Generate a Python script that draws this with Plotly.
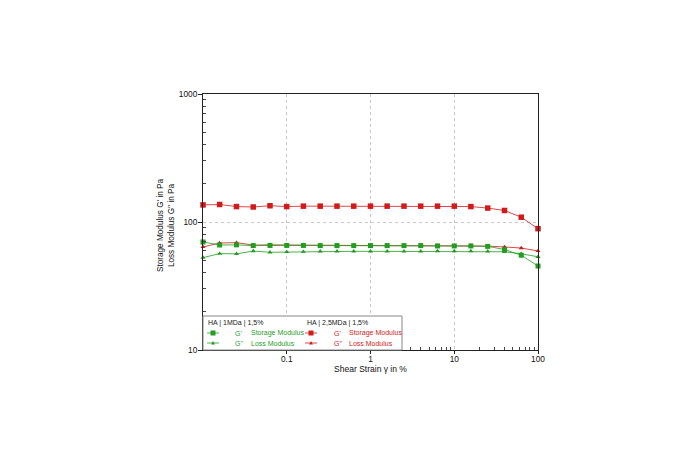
import plotly.graph_objects as go

# ---- data ----
strain = [0.01, 0.0158, 0.0251, 0.0398, 0.0631, 0.1, 0.158, 0.251, 0.398, 0.631,
          1, 1.58, 2.51, 3.98, 6.31, 10, 15.8, 25.1, 39.8, 63.1, 100]
ha25_storage = [136, 137, 132, 131, 134, 132, 133, 133, 133, 133, 133, 133, 133,
                133, 133, 133, 132, 128.5, 123, 109, 88.7]
ha25_loss = [63.8, 68.5, 69, 66, 66.3, 66, 66, 65.8, 65.8, 65.6, 65.5, 65.5, 65.5,
             65.5, 65.5, 65.5, 65.5, 64.8, 63.8, 62.6, 59.4]
ha1_storage = [69.8, 66.1, 66.3, 65.4, 65.6, 65.6, 65.6, 65.4, 65.4, 65.4, 65.4, 65.4,
               65.4, 65.4, 65, 65, 65, 64.5, 61, 55, 45.3]
ha1_loss = [52.7, 56.6, 56.4, 59.3, 58, 58.3, 58.6, 59, 59, 59, 59, 59, 59, 59,
            59.3, 59.3, 59.3, 59, 58.5, 56.5, 53.5]
x_ticks = [0.1, 1, 10, 100]
x_ticklabels = ["0.1", "1", "10", "100"]
y_ticks = [10, 100, 1000]
y_ticklabels = ["10", "100", "1000"]
x_minor = [m * d for d in [0.01, 0.1, 1, 10] for m in range(2, 10)]
y_minor = [m * d for d in [10, 100] for m in range(2, 10)]

GREEN = "#1f9e1f"
RED = "#d21a1a"
FONT = "Arial, Liberation Sans, sans-serif"

fig = go.Figure()

def add(y, color, symbol, size):
    fig.add_trace(go.Scatter(
        x=strain, y=y, mode="lines+markers", cliponaxis=False,
        line=dict(color=color, width=0.8),
        marker=dict(color=color, symbol=symbol, size=size, line=dict(width=0)),
        showlegend=False))

add(ha1_loss, GREEN, "triangle-up", 4.5)
add(ha25_loss, RED, "triangle-up", 4.5)
add(ha1_storage, GREEN, "square", 5)
add(ha25_storage, RED, "square", 5.5)

# plot-area geometry (px, page coords) ; page body has an 8px offset
OFF = 8
L, R, T, B = 203, 538, 94, 350
def PX(px):
    return (px - L) / (R - L)
def PY(py):
    return (B - py) / (B - T)

shapes = []
annotations = []
# legend box
shapes.append(dict(type="rect", xref="paper", yref="paper", x0=PX(203), x1=PX(402),
                   y0=PY(350), y1=PY(316), line=dict(color="#888", width=1),
                   fillcolor="white", layer="above"))

def legend_col(x_title, x_mark, x_g, x_txt, title, color):
    annotations.append(dict(x=PX(x_title), y=PY(323), xref="paper", yref="paper",
                            text=title, showarrow=False, xanchor="left", yanchor="middle",
                            font=dict(size=7, color="#222", family=FONT)))
    for row_y, sym, g, txt in [(333, "sq", "G'", "Storage Modulus"),
                               (343, "tri", "G''", "Loss Modulus")]:
        shapes.append(dict(type="line", xref="paper", yref="paper",
                           x0=PX(x_mark - 6), x1=PX(x_mark + 6), y0=PY(row_y), y1=PY(row_y),
                           line=dict(color=color, width=0.8), layer="above"))
        if sym == "sq":
            shapes.append(dict(type="rect", xref="paper", yref="paper",
                               x0=PX(x_mark - 2.5), x1=PX(x_mark + 2.5),
                               y0=PY(row_y + 2.5), y1=PY(row_y - 2.5),
                               line=dict(width=0), fillcolor=color, layer="above"))
        else:
            path = "M {} {} L {} {} L {} {} Z".format(
                PX(x_mark - 2), PY(row_y + 1.5), PX(x_mark + 2), PY(row_y + 1.5),
                PX(x_mark), PY(row_y - 2))
            shapes.append(dict(type="path", xref="paper", yref="paper", path=path,
                               line=dict(width=0), fillcolor=color, layer="above"))
        annotations.append(dict(x=PX(x_g), y=PY(row_y), xref="paper", yref="paper",
                                text=g, showarrow=False, xanchor="left", yanchor="middle",
                                font=dict(size=7, color=color, family=FONT)))
        annotations.append(dict(x=PX(x_txt), y=PY(row_y), xref="paper", yref="paper",
                                text=txt, showarrow=False, xanchor="left", yanchor="middle",
                                font=dict(size=7, color=color, family=FONT)))

legend_col(206, 213, 233, 249, "HA | 1MDa | 1,5%", GREEN)
legend_col(305, 311, 332, 347, "HA | 2,5MDa | 1,5%", RED)

# y-axis title (two lines)
annotations.append(dict(x=PX(166), y=PY(226), xref="paper", yref="paper",
                        text="Storage Modulus G' in Pa<br>Loss Modulus G'' in Pa",
                        textangle=-90, showarrow=False, xanchor="center", yanchor="middle",
                        font=dict(size=8.2, color="#111", family=FONT)))

fig.update_layout(
    width=690, height=460,
    margin=dict(l=L - OFF, r=690 - (R - OFF), t=T - OFF, b=460 - (B - OFF)),
    paper_bgcolor="white", plot_bgcolor="white",
    font=dict(family=FONT, size=8, color="#111"),
    shapes=shapes, annotations=annotations,
    xaxis=dict(type="log", range=[-2, 2], tickvals=x_ticks, ticktext=x_ticklabels,
               showline=True, linecolor="#222", linewidth=1, mirror=True,
               ticks="outside", ticklen=3, tickcolor="#222", ticklabelstandoff=-2,
               minor=dict(ticks="inside", ticklen=3, tickcolor="#444", showgrid=False,
                          tickvals=x_minor),
               showgrid=True, gridcolor="#c8c8c8", griddash="dot", gridwidth=1,
               zeroline=False, tickfont=dict(size=8.3),
               title=dict(text="Shear Strain γ in %", font=dict(size=8.5), standoff=0)),
    yaxis=dict(type="log", range=[1, 3], tickvals=y_ticks, ticktext=y_ticklabels,
               showline=True, linecolor="#222", linewidth=1, mirror=True,
               ticks="outside", ticklen=4, tickcolor="#222", ticklabelstandoff=-1,
               minor=dict(ticks="inside", ticklen=3, tickcolor="#444", showgrid=False,
                          tickvals=y_minor),
               showgrid=True, gridcolor="#c8c8c8", griddash="dot", gridwidth=1,
               zeroline=False, tickfont=dict(size=8.3)),
)

fig.write_html("out.html")
